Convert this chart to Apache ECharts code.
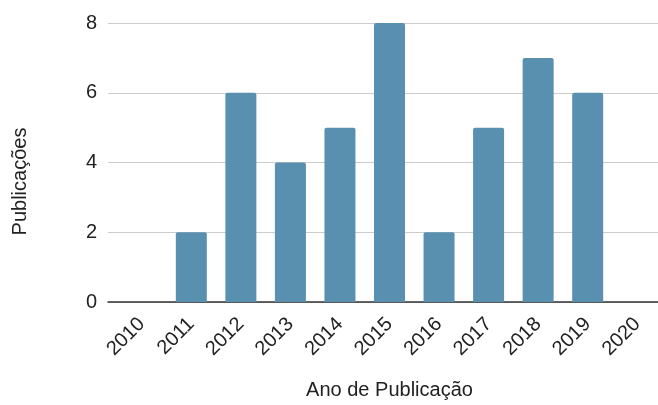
<!DOCTYPE html>
<html>
<head>
<meta charset="utf-8">
<script src="https://cdn.jsdelivr.net/npm/echarts@6/dist/echarts.min.js"></script>
<style>
  html, body { margin: 0; padding: 0; background: #fff; }
  #chart { width: 658px; height: 405px; }
</style>
</head>
<body>
<div id="chart"></div>
<script>
var anos = ['2010', '2011', '2012', '2013', '2014', '2015', '2016', '2017', '2018', '2019', '2020'];
var publicacoes = [0, 2, 6, 4, 5, 8, 2, 5, 7, 6, 0];

var myChart = echarts.init(document.getElementById('chart'));
var fonte = '"Liberation Sans", Arial, sans-serif';
var option = {
    animation: false,
    grid: [
        // grade das linhas horizontais e do eixo
        { left: 108, right: 0, top: 23, bottom: 103, outerBoundsMode: 'none' },
        // grade das barras
        { left: 117, right: -4, top: 23, bottom: 103, outerBoundsMode: 'none' }
    ],
    xAxis: [{
        type: 'category',
        gridIndex: 0,
        data: anos,
        axisLine: { lineStyle: { color: '#333', width: 1.5 } },
        axisTick: { show: false },
        axisLabel: { show: false }
    }, {
        type: 'category',
        gridIndex: 1,
        data: anos,
        name: 'Ano de Publicação',
        nameLocation: 'middle',
        nameGap: 78,
        nameTextStyle: { fontFamily: fonte, fontSize: 20, color: '#222' },
        axisLine: { show: false },
        axisTick: { show: false },
        axisLabel: { rotate: 45, fontFamily: fonte, fontSize: 20, color: '#222', margin: 19 }
    }],
    yAxis: [{
        type: 'value',
        gridIndex: 0,
        min: 0,
        max: 8,
        interval: 2,
        name: 'Publicações',
        nameLocation: 'middle',
        nameGap: 78,
        nameTextStyle: { fontFamily: fonte, fontSize: 20, color: '#222', padding: [0, 38, 0, 0] },
        axisLine: { show: false },
        axisTick: { show: false },
        axisLabel: { fontFamily: fonte, fontSize: 20, color: '#222', margin: 11 },
        splitLine: { lineStyle: { color: '#cccccc', width: 1 } }
    }, {
        type: 'value',
        gridIndex: 1,
        min: 0,
        max: 8,
        interval: 2,
        show: false
    }],
    series: [{
        type: 'bar',
        xAxisIndex: 1,
        yAxisIndex: 1,
        data: publicacoes,
        barWidth: 31,
        itemStyle: { color: '#5990b0', borderRadius: [2, 2, 0, 0] }
    }]
};
myChart.setOption(option);
</script>
</body>
</html>
